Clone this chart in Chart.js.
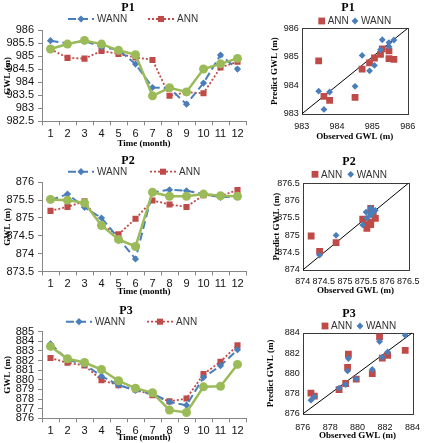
<!DOCTYPE html>
<html>
<head>
<meta charset="utf-8">
<script src="https://cdn.jsdelivr.net/npm/chart.js@4/dist/chart.umd.min.js"></script>
<style>
body { margin: 0; background: #fff; width: 428px; height: 443px; position: relative; overflow: hidden; }
canvas { position: absolute; }
</style>
</head>
<body>
<canvas id="line1"></canvas>
<canvas id="line2"></canvas>
<canvas id="line3"></canvas>
<canvas id="scat1"></canvas>
<canvas id="scat2"></canvas>
<canvas id="scat3"></canvas>
<script>
// months on the x axis
const months = ['1', '2', '3', '4', '5', '6', '7', '8', '9', '10', '11', '12'];

// P1 (GWL, m)
const p1Observed = [985.28, 985.47, 985.61, 985.47, 985.23, 985.06, 983.48, 983.79, 983.63, 984.51, 984.71, 984.92];
const p1Wann = [985.6, 985.5, 985.59, 985.36, 985.25, 984.7, 983.8, 983.77, 983.16, 983.97, 985.05, 984.51];
const p1Ann = [985.28, 984.94, 984.91, 985.21, 985.09, 984.96, 984.86, 983.48, 983.62, 983.58, 984.57, 984.79];

// P2
const p2Observed = [875.52, 875.5, 875.42, 874.79, 874.4, 874.2, 875.72, 875.61, 875.61, 875.67, 875.62, 875.61];
const p2Wann = [875.5, 875.67, 875.3, 875.0, 874.43, 873.85, 875.72, 875.79, 875.76, 875.67, 875.58, 875.61];
const p2Ann = [875.2, 875.31, 875.47, 874.79, 874.54, 874.98, 875.49, 875.38, 875.31, 875.64, 875.62, 875.78];

// P3
const p3Observed = [883.47, 882.19, 881.8, 881.07, 879.9, 879.13, 878.65, 876.85, 876.6, 879.27, 879.33, 881.6];
const p3Wann = [883.75, 882.1, 881.6, 880.38, 879.45, 878.9, 878.55, 877.7, 877.36, 880.24, 881.46, 883.13];
const p3Ann = [882.26, 881.77, 881.49, 879.97, 879.44, 879.0, 878.4, 877.76, 878.05, 880.59, 881.88, 883.58];

// tick labels
const p1LineTicks = [982.5, 983, 983.5, 984, 984.5, 985, 985.5, 986];
const p2LineTicks = [873.5, 874, 874.5, 875, 875.5, 876];
const p3LineTicks = [876, 877, 878, 879, 880, 881, 882, 883, 884, 885];
const p1ScatTicks = [983, 984, 985, 986];
const p2ScatTicks = [874, 874.5, 875, 875.5, 876, 876.5];
const p3ScatTicks = [876, 878, 880, 882, 884];

const BLUE = '#4A7EBB';
const RED = '#BE4B48';
const GREEN = '#9BBB59';
const AXIS = '#868686';
const SANS = '"Liberation Sans", Arial, sans-serif';
const SERIF = '"Liberation Serif", "Times New Roman", serif';
const titleFont = { family: SERIF, size: 9, weight: 'bold' };
const TLH = 9 * 1.2;

function marker(ctx, style, x, y, r, color) {
    ctx.fillStyle = color;
    ctx.beginPath();
    if (style == 'rect') {
        const s = r * Math.SQRT1_2;
        ctx.rect(x - s, y - s, 2 * s, 2 * s);
    } else if (style == 'rectRot') {
        ctx.moveTo(x - r, y); ctx.lineTo(x, y - r); ctx.lineTo(x + r, y); ctx.lineTo(x, y + r);
        ctx.closePath();
    } else {
        ctx.arc(x, y, r, 0, Math.PI * 2);
    }
    ctx.fill();
}

// heading + legend drawn by hand (Excel style legend)
const decor = {
    id: 'decor',
    afterDraw(chart, args, o) {
        const ctx = chart.ctx;
        ctx.save();
        ctx.fillStyle = '#000';
        ctx.font = 'bold 12px ' + SERIF;
        ctx.textAlign = 'center';
        ctx.textBaseline = 'middle';
        ctx.fillText(o.heading, o.hx - o.ox, o.hy - o.oy);
        ctx.textAlign = 'left';
        ctx.font = '10px ' + SANS;
        o.items.forEach(it => {
            const ds = chart.data.datasets[it.ds];
            const x = it.x - o.ox, y = o.ly - o.oy;
            let tx;
            if (o.lines) {
                ctx.strokeStyle = ds.borderColor;
                ctx.lineWidth = ds.borderWidth;
                ctx.setLineDash(ds.borderDash || []);
                ctx.beginPath(); ctx.moveTo(x, y); ctx.lineTo(x + 26, y); ctx.stroke();
                ctx.setLineDash([]);
                marker(ctx, ds.pointStyle, x + 13, y, ds.pointRadius, ds.pointBackgroundColor);
                tx = x + 29;
            } else {
                marker(ctx, ds.pointStyle, x, y, ds.pointRadius, ds.pointBackgroundColor);
                tx = x + 6;
            }
            ctx.fillStyle = '#333';
            ctx.fillText(ds.label, tx, y + 0.5);
        });
        ctx.restore();
    }
};

const frame = {
    id: 'frame',
    beforeDatasetsDraw(chart) {
        const a = chart.chartArea, ctx = chart.ctx;
        ctx.save();
        ctx.strokeStyle = '#3a3a3a';
        ctx.lineWidth = 1;
        ctx.strokeRect(Math.round(a.left) + 0.5, Math.round(a.top) + 0.5, Math.round(a.right - a.left), Math.round(a.bottom - a.top));
        ctx.restore();
    }
};

function place(id, r) {
    const cv = document.getElementById(id);
    cv.width = r.w; cv.height = r.h;
    cv.style.left = r.x + 'px';
    cv.style.top = r.y + 'px';
    return cv;
}

function makeLine(id, c) {
    const cv = place(id, c.rect);
    const padL = c.yTitleX - TLH / 2 - c.rect.x;
    const xBottom = c.xTitleY + TLH / 2;
    new Chart(cv, {
        type: 'line',
        data: {
            labels: months,
            datasets: [
                { label: 'Observed', data: c.observed, borderColor: GREEN, pointBackgroundColor: GREEN, borderWidth: 2.5, pointStyle: 'circle', pointRadius: 4.5, pointBorderWidth: 0 },
                { label: 'WANN', data: c.wann, borderColor: BLUE, pointBackgroundColor: BLUE, borderWidth: 2, borderDash: [8, 4], pointStyle: 'rectRot', pointRadius: 3.6, pointBorderWidth: 0 },
                { label: 'ANN', data: c.ann, borderColor: RED, pointBackgroundColor: RED, borderWidth: 1.8, borderDash: [2, 2], pointStyle: 'rect', pointRadius: 4.3, pointBorderWidth: 0 }
            ]
        },
        options: {
            responsive: false,
            animation: false,
            devicePixelRatio: 1,
            layout: {
                autoPadding: false,
                padding: { top: c.area.t - c.rect.y, right: c.rect.x + c.rect.w - c.area.r, left: padL, bottom: c.rect.y + c.rect.h - xBottom }
            },
            plugins: {
                legend: { display: false },
                title: { display: false },
                tooltip: { enabled: false },
                decor: { heading: c.heading, hx: c.hx, hy: c.hy, ly: c.ly, ox: c.rect.x, oy: c.rect.y, lines: true, items: [{ ds: 1, x: c.lx[0] }, { ds: 2, x: c.lx[1] }] }
            },
            scales: {
                x: {
                    offset: true,
                    grid: { offset: true, drawOnChartArea: false, tickLength: 4, color: AXIS },
                    border: { color: AXIS },
                    ticks: { font: { family: SANS, size: 11 }, color: '#111', padding: 2, maxRotation: 0, autoSkip: false },
                    title: { display: true, text: 'Time (month)', font: titleFont, color: '#000', padding: 0 },
                    afterFit: s => { s.height = xBottom - c.area.b; }
                },
                y: {
                    min: c.yTicks[0],
                    max: c.yTicks[c.yTicks.length - 1],
                    afterBuildTicks: s => { s.ticks = c.yTicks.map(v => ({ value: v })); },
                    grid: { drawOnChartArea: false, tickLength: 4, color: AXIS },
                    border: { color: AXIS },
                    ticks: { font: { family: SANS, size: 11 }, color: '#111', padding: 4, autoSkip: false, callback: v => String(v) },
                    title: { display: true, text: 'GWL (m)', font: titleFont, color: '#000', padding: 0 },
                    afterFit: s => { s.width = c.area.l - c.rect.x - padL; }
                }
            }
        },
        plugins: [decor]
    });
}

function makeScatter(id, c) {
    const cv = place(id, c.rect);
    const padL = c.yTitleX - TLH / 2 - c.rect.x;
    const xBottom = c.xTitleY + TLH / 2;
    const lo = c.ticks[0], hi = c.ticks[c.ticks.length - 1];
    new Chart(cv, {
        type: 'scatter',
        data: {
            datasets: [
                { label: 'WANN', data: c.observed.map((o, i) => ({ x: o, y: c.wann[i] })), pointStyle: 'rectRot', pointRadius: 3.4, pointBackgroundColor: BLUE, pointBorderWidth: 0 },
                { label: 'ANN', data: c.observed.map((o, i) => ({ x: o, y: c.ann[i] })), pointStyle: 'rect', pointRadius: 4.8, pointBackgroundColor: RED, pointBorderWidth: 0 },
                { label: '1:1', data: [{ x: lo, y: lo }, { x: hi, y: hi }], showLine: true, borderColor: '#000', borderWidth: 1, pointRadius: 0 }
            ]
        },
        options: {
            responsive: false,
            animation: false,
            devicePixelRatio: 1,
            layout: {
                autoPadding: false,
                padding: { top: c.area.t - c.rect.y, right: c.rect.x + c.rect.w - c.area.r, left: padL, bottom: c.rect.y + c.rect.h - xBottom }
            },
            plugins: {
                legend: { display: false },
                title: { display: false },
                tooltip: { enabled: false },
                decor: { heading: c.heading, hx: c.hx, hy: c.hy, ly: c.ly, ox: c.rect.x, oy: c.rect.y, lines: false, items: [{ ds: 1, x: c.lx[0] }, { ds: 0, x: c.lx[1] }] }
            },
            scales: {
                x: {
                    type: 'linear', min: lo, max: hi,
                    afterBuildTicks: s => { s.ticks = c.ticks.map(v => ({ value: v })); },
                    grid: { display: false, drawTicks: false, tickLength: 0 },
                    border: { display: false },
                    ticks: { font: { family: SANS, size: 9 }, color: '#111', padding: c.xPad, maxRotation: 0, autoSkip: false, callback: v => String(v) },
                    title: { display: true, text: 'Observed GWL (m)', font: titleFont, color: '#000', padding: 0 },
                    afterFit: s => { s.height = xBottom - c.area.b; }
                },
                y: {
                    type: 'linear', min: lo, max: hi,
                    afterBuildTicks: s => { s.ticks = c.ticks.map(v => ({ value: v })); },
                    grid: { display: false, drawTicks: false, tickLength: 0 },
                    border: { display: false },
                    ticks: { font: { family: SANS, size: 9 }, color: '#111', padding: 3, autoSkip: false, callback: v => String(v) },
                    title: { display: true, text: 'Predict GWL (m)', font: titleFont, color: '#000', padding: 0 },
                    afterFit: s => { s.width = c.area.l - c.rect.x - padL; }
                }
            }
        },
        plugins: [frame, decor]
    });
}

makeLine('line1', {
    rect: { x: 0, y: 0, w: 262, h: 150 }, area: { l: 42, t: 30.3, r: 246, b: 121.3 },
    xTitleY: 144, yTitleX: 7.5, heading: 'P1', hx: 128, hy: 7.5, ly: 19, lx: [68, 148],
    observed: p1Observed, wann: p1Wann, ann: p1Ann, yTicks: p1LineTicks
});
makeLine('line2', {
    rect: { x: 0, y: 150, w: 262, h: 148 }, area: { l: 42, t: 182.3, r: 246, b: 271.5 },
    xTitleY: 292, yTitleX: 7.5, heading: 'P2', hx: 128, hy: 160.7, ly: 171.7, lx: [68, 150],
    observed: p2Observed, wann: p2Wann, ann: p2Ann, yTicks: p2LineTicks
});
makeLine('line3', {
    rect: { x: 0, y: 298, w: 262, h: 146 }, area: { l: 42, t: 331.7, r: 246, b: 418.3 },
    xTitleY: 438, yTitleX: 7.5, heading: 'P3', hx: 126, hy: 310.7, ly: 321.7, lx: [66, 147],
    observed: p3Observed, wann: p3Wann, ann: p3Ann, yTicks: p3LineTicks
});

makeScatter('scat1', {
    rect: { x: 262, y: 0, w: 166, h: 150 }, area: { l: 301.7, t: 28.3, r: 407.7, b: 114 },
    xTitleY: 137, yTitleX: 275, xPad: 7, heading: 'P1', hx: 348, hy: 8.3, ly: 21, lx: [321.7, 355],
    observed: p1Observed, wann: p1Wann, ann: p1Ann, ticks: p1ScatTicks
});
makeScatter('scat2', {
    rect: { x: 262, y: 150, w: 166, h: 148 }, area: { l: 302.7, t: 183.3, r: 408.3, b: 270 },
    xTitleY: 291, yTitleX: 277, xPad: 6, heading: 'P2', hx: 349, hy: 161.7, ly: 174.3, lx: [315, 350.7],
    observed: p2Observed, wann: p2Wann, ann: p2Ann, ticks: p2ScatTicks
});
makeScatter('scat3', {
    rect: { x: 262, y: 298, w: 166, h: 146 }, area: { l: 302.7, t: 332.7, r: 418.3, b: 414 },
    xTitleY: 436, yTitleX: 271, xPad: 8, heading: 'P3', hx: 349, hy: 313.5, ly: 326, lx: [325, 360],
    observed: p3Observed, wann: p3Wann, ann: p3Ann, ticks: p3ScatTicks
});
</script>
</body>
</html>
